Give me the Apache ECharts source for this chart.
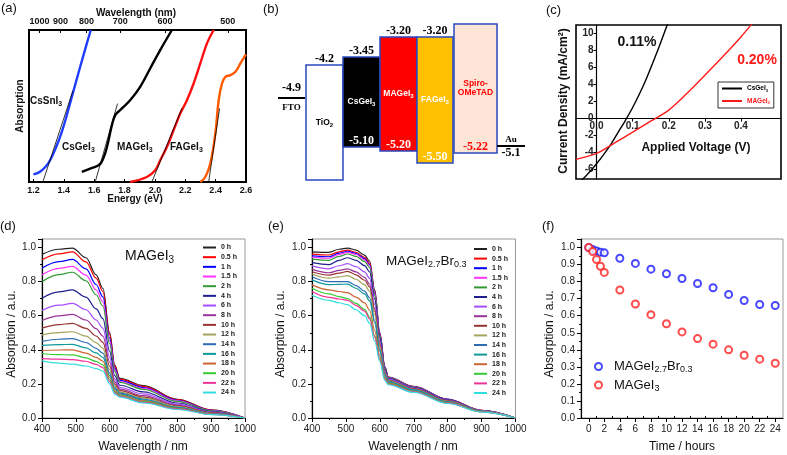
<!DOCTYPE html>
<html>
<head>
<meta charset="utf-8">
<script src="https://cdn.jsdelivr.net/npm/echarts@6/dist/echarts.min.js"></script>
<style>
  html, body { margin: 0; padding: 0; background: #fff; }
  #main { width: 787px; height: 455px; }
</style>
</head>
<body>
<div id="main"></div>
<script>
var SANS = '"Liberation Sans", Arial, sans-serif';
var SERIF = '"Liberation Serif", "Times New Roman", serif';

// ---- (a) absorption edges, [energy eV, absorption]
var csSnI3 = [[1.2, 0.05], [1.24, 0.065], [1.28, 0.1], [1.31, 0.143], [1.35, 0.23], [1.387, 0.33], [1.42, 0.44], [1.453, 0.56], [1.508, 0.758], [1.552, 0.912], [1.578, 1.0]];
var csGeI3 = [[1.519, 0.066], [1.574, 0.088], [1.62, 0.105], [1.645, 0.125], [1.673, 0.19], [1.695, 0.275], [1.717, 0.374], [1.739, 0.44], [1.771, 0.473], [1.837, 0.538], [1.903, 0.626], [1.969, 0.747], [2.035, 0.868], [2.112, 1.0]];
var maGeI3 = [[1.837, 0.0], [1.947, 0.033], [2.002, 0.077], [2.035, 0.143], [2.079, 0.23], [2.123, 0.34], [2.167, 0.45], [2.211, 0.538], [2.255, 0.648], [2.299, 0.78], [2.343, 0.912], [2.387, 1.0]];
var faGeI3 = [[2.299, 0.0], [2.332, 0.033], [2.365, 0.121], [2.398, 0.319], [2.42, 0.538], [2.442, 0.648], [2.464, 0.692], [2.497, 0.703], [2.53, 0.725], [2.563, 0.78], [2.6, 0.84]];
var tangents = [
  [[1.262, 0], [1.46, 0.6]],
  [[1.607, 0], [1.754, 0.516]],
  [[1.98, 0], [2.178, 0.484]],
  [[2.354, 0], [2.426, 0.484]]
];
var energyTicks = [1.2, 1.4, 1.6, 1.8, 2.0, 2.2, 2.4, 2.6];
var wavelengthTicks = [1000, 900, 800, 700, 600, 500];

// ---- (b) band diagram (schematic levels, not to scale)
var layerLabels = ['{n|TiO}{s|2}', '{n|CsGeI}{s|3}', '{n|MAGeI}{s|3}', '{n|FAGeI}{s|3}', '{n|Spiro-}\n{n|OMeTAD}'];
var cbText = ['-4.2', '-3.45', '-3.20', '-3.20', ''];
var vbText = ['', '-5.10', '-5.20', '-5.50', '-5.22'];
var layerFrom = [36, 73, 110, 147, 184];
var layerTo = [73, 110, 147, 183, 227];
var cbLevel = [45, 37, 17, 17, 4];
var vbLevel = [160, 127, 131, 143, 133];
var electrodeNames = ['FTO', 'Au'];
var electrodeText = ['-4.9', '-5.1'];
var electrodeFrom = [8, 227];
var electrodeTo = [35, 255];
var electrodeLevel = [78, 126];

// ---- (c) J-V curves
var csGeV = [-0.045, -0.02, 0, 0.02, 0.04, 0.06, 0.08, 0.1, 0.12, 0.14, 0.16, 0.18, 0.2];
var csGeJ = [-7.4, -6.3, -5.3, -4.2, -3.0, -1.6, -0.2, 1.3, 3.0, 4.9, 7.0, 9.2, 11.5];
var maV = [-0.057, 0, 0.05, 0.1, 0.15, 0.2, 0.25, 0.3, 0.35, 0.4, 0.43];
var maJ = [-4.8, -4.1, -2.85, -1.6, -0.3, 1.0, 2.95, 5.1, 7.3, 9.6, 11.1];
var voltTicks = [0, 0.1, 0.2, 0.3, 0.4];
var currentTicks = [-6, -4, -2, 0, 2, 4, 6, 8, 10];

// ---- (d) MAGeI3 spectra vs time
var timeLabels = ['0 h', '0.5 h', '1 h', '1.5 h', '2 h', '4 h', '6 h', '8 h', '10 h', '12 h', '14 h', '16 h', '18 h', '20 h', '22 h', '24 h'];
var wlD = [400, 450, 490, 530, 560, 580, 600, 615, 630, 700, 800, 900, 1000];
var absD = [
  [0.96, 0.99, 0.997, 0.94, 0.84, 0.76, 0.5, 0.31, 0.232, 0.19, 0.11, 0.048, 0],
  [0.928, 0.963, 0.975, 0.916, 0.82, 0.742, 0.489, 0.304, 0.228, 0.186, 0.108, 0.047, 0],
  [0.879, 0.917, 0.93, 0.875, 0.783, 0.71, 0.469, 0.292, 0.221, 0.179, 0.104, 0.045, 0],
  [0.84, 0.878, 0.89, 0.838, 0.751, 0.682, 0.452, 0.283, 0.214, 0.174, 0.1, 0.043, 0],
  [0.8, 0.841, 0.855, 0.805, 0.723, 0.657, 0.436, 0.274, 0.209, 0.168, 0.097, 0.042, 0],
  [0.703, 0.74, 0.752, 0.709, 0.64, 0.583, 0.391, 0.248, 0.192, 0.153, 0.088, 0.038, 0],
  [0.631, 0.662, 0.672, 0.635, 0.575, 0.527, 0.356, 0.228, 0.179, 0.141, 0.081, 0.035, 0],
  [0.572, 0.599, 0.608, 0.575, 0.524, 0.481, 0.328, 0.212, 0.169, 0.131, 0.076, 0.032, 0],
  [0.527, 0.548, 0.555, 0.526, 0.481, 0.444, 0.304, 0.199, 0.16, 0.123, 0.071, 0.03, 0],
  [0.488, 0.501, 0.506, 0.48, 0.442, 0.409, 0.283, 0.187, 0.152, 0.116, 0.067, 0.028, 0],
  [0.449, 0.462, 0.466, 0.443, 0.409, 0.38, 0.265, 0.177, 0.146, 0.11, 0.063, 0.026, 0],
  [0.426, 0.43, 0.432, 0.411, 0.382, 0.356, 0.25, 0.168, 0.14, 0.105, 0.06, 0.025, 0],
  [0.396, 0.399, 0.4, 0.381, 0.356, 0.333, 0.236, 0.16, 0.135, 0.1, 0.057, 0.023, 0],
  [0.377, 0.372, 0.37, 0.353, 0.332, 0.312, 0.223, 0.153, 0.13, 0.096, 0.055, 0.022, 0],
  [0.348, 0.345, 0.343, 0.333, 0.314, 0.296, 0.213, 0.147, 0.127, 0.092, 0.053, 0.021, 0],
  [0.335, 0.322, 0.316, 0.305, 0.29, 0.275, 0.2, 0.14, 0.122, 0.088, 0.05, 0.02, 0]
];

// ---- (e) MAGeI2.7Br0.3 spectra vs time
var wlE = [400, 450, 480, 505, 530, 555, 570, 585, 600, 615, 625, 700, 800, 900, 1000];
var absE = [
  [0.975, 0.972, 0.99, 0.997, 0.985, 0.955, 0.92, 0.75, 0.5, 0.3, 0.24, 0.185, 0.11, 0.045, 0],
  [0.961, 0.956, 0.975, 0.985, 0.972, 0.942, 0.907, 0.739, 0.494, 0.297, 0.238, 0.184, 0.109, 0.045, 0],
  [0.951, 0.946, 0.967, 0.978, 0.965, 0.935, 0.899, 0.733, 0.49, 0.295, 0.237, 0.183, 0.109, 0.044, 0],
  [0.942, 0.937, 0.96, 0.972, 0.959, 0.928, 0.893, 0.728, 0.487, 0.294, 0.237, 0.182, 0.108, 0.044, 0],
  [0.932, 0.925, 0.948, 0.962, 0.948, 0.918, 0.882, 0.719, 0.482, 0.292, 0.235, 0.181, 0.107, 0.044, 0],
  [0.911, 0.9, 0.925, 0.94, 0.925, 0.894, 0.857, 0.698, 0.471, 0.286, 0.232, 0.179, 0.106, 0.043, 0],
  [0.892, 0.875, 0.893, 0.905, 0.888, 0.857, 0.819, 0.667, 0.453, 0.278, 0.228, 0.175, 0.103, 0.042, 0],
  [0.872, 0.852, 0.866, 0.875, 0.857, 0.825, 0.786, 0.64, 0.438, 0.271, 0.223, 0.172, 0.101, 0.041, 0],
  [0.858, 0.838, 0.85, 0.86, 0.84, 0.808, 0.769, 0.626, 0.43, 0.267, 0.221, 0.171, 0.1, 0.041, 0],
  [0.845, 0.82, 0.828, 0.835, 0.814, 0.782, 0.742, 0.604, 0.417, 0.261, 0.218, 0.168, 0.098, 0.04, 0],
  [0.829, 0.8, 0.8, 0.8, 0.777, 0.744, 0.704, 0.572, 0.399, 0.253, 0.213, 0.164, 0.095, 0.039, 0],
  [0.81, 0.782, 0.784, 0.785, 0.761, 0.728, 0.687, 0.558, 0.391, 0.249, 0.211, 0.163, 0.094, 0.039, 0],
  [0.781, 0.752, 0.742, 0.735, 0.709, 0.675, 0.632, 0.513, 0.366, 0.237, 0.204, 0.157, 0.09, 0.037, 0],
  [0.761, 0.728, 0.712, 0.7, 0.672, 0.637, 0.593, 0.482, 0.348, 0.228, 0.2, 0.154, 0.088, 0.036, 0],
  [0.742, 0.708, 0.698, 0.69, 0.661, 0.627, 0.582, 0.473, 0.343, 0.226, 0.198, 0.153, 0.087, 0.036, 0],
  [0.72, 0.69, 0.676, 0.665, 0.635, 0.6, 0.555, 0.45, 0.33, 0.22, 0.195, 0.15, 0.085, 0.035, 0]
];

// ---- (f) peak absorption vs time
var timeH = [0, 0.5, 1, 1.5, 2, 4, 6, 8, 10, 12, 14, 16, 18, 20, 22, 24];
var absBr = [1.0, 0.988, 0.98, 0.973, 0.969, 0.937, 0.907, 0.873, 0.846, 0.818, 0.789, 0.764, 0.725, 0.689, 0.666, 0.66];
var absI3 = [1.0, 0.976, 0.93, 0.89, 0.854, 0.751, 0.669, 0.606, 0.553, 0.505, 0.466, 0.433, 0.4, 0.368, 0.345, 0.321];
var hourTicks = [0, 2, 4, 6, 8, 10, 12, 14, 16, 18, 20, 22, 24];
var hourMinor = [1, 3, 5, 7, 9, 11, 13, 15, 17, 19, 21, 23];

var timeColors = ['#222222', '#ff0000', '#0000ff', '#ff33ff', '#339933', '#1f1f8f', '#a64dff', '#993399',
  '#993333', '#a3a35c', '#2e6bb5', '#0f9999', '#cc6633', '#33cc33', '#ee3399', '#33dddd'];

// (c) frame, used to put both axes through zero
var jvGrid = { left: 576, top: 25, width: 205, height: 154 };
var jvX = [-0.057, 0.511];
var jvY = [-7.1, 11];
var jvXoffset = -(0 - jvX[0]) / (jvX[1] - jvX[0]) * jvGrid.width;
var jvYoffset = -(0 - jvY[0]) / (jvY[1] - jvY[0]) * jvGrid.height;

function zip(xs, ys) {
  return xs.map(function (x, i) { return [x, ys[i]]; });
}

function sub(size, color, weight) {
  return {
    n: { fontSize: size, fontFamily: SANS, fontWeight: weight, color: color },
    s: { fontSize: Math.round(size * 0.68), fontFamily: SANS, fontWeight: weight, color: color, padding: [Math.round(size * 0.55), 0, 0, 0] }
  };
}

function textEl(x, y, text, size, opts) {
  opts = opts || {};
  return {
    type: 'text', x: x, y: y, rotation: opts.rotation || 0, silent: true,
    style: {
      text: text,
      fontSize: size,
      fontFamily: opts.family || SANS,
      fontWeight: opts.weight || 'normal',
      fill: opts.color || '#111',
      align: opts.align || 'center',
      verticalAlign: 'middle',
      rich: opts.rich
    }
  };
}

function fmtStep(step) {
  return function (v) {
    var k = Math.round(v / step);
    if (Math.abs(v - k * step) > 1e-6 || v > 1.0001) return '';
    return v.toFixed(1);
  };
}

function spectrumX(grid) {
  return {
    gridIndex: grid, type: 'value', min: 400, max: 1000, interval: 100,
    axisLine: { show: true, onZero: false, lineStyle: { color: '#000', width: 1.2 } },
    axisTick: { show: true, length: 4, lineStyle: { color: '#000' } },
    minorTick: { show: true, splitNumber: 2, length: 2, lineStyle: { color: '#000' } },
    splitLine: { show: false },
    axisLabel: { fontSize: 10, color: '#222', fontFamily: SANS, margin: 6, formatter: function (v) { return String(v); } }
  };
}

function absorbY(grid, step) {
  return {
    gridIndex: grid, type: 'value', min: 0, max: 1.05, interval: step,
    axisLine: { show: true, onZero: false, lineStyle: { color: '#000', width: 1.2 } },
    axisTick: { show: true, length: 4, lineStyle: { color: '#000' } },
    minorTick: { show: true, splitNumber: 2, length: 2, lineStyle: { color: '#000' } },
    splitLine: { show: false },
    axisLabel: { fontSize: 10, color: '#222', fontFamily: SANS, margin: 6, formatter: fmtStep(step) }
  };
}

// band diagram boxes
function renderLayer(params, api) {
  var i = params.dataIndex;
  var p0 = api.coord([api.value(0), api.value(2)]);
  var p1 = api.coord([api.value(1), api.value(3)]);
  var fills = ['#ffffff', '#000000', '#ff0000', '#ffc000', '#fce4d6'];
  var nameColor = ['#000000', '#ffffff', '#ffffff', '#ffffff', '#ff0000'];
  var vbColor = ['#ffffff', '#ffffff', '#ffffff', '#ffffff', '#ff0000'];
  var cx = (p0[0] + p1[0]) / 2;
  return {
    type: 'group',
    children: [
      { type: 'rect', shape: { x: p0[0], y: p0[1], width: p1[0] - p0[0], height: p1[1] - p0[1] },
        style: { fill: fills[i], stroke: '#2a48c0', lineWidth: 1.5 } },
      { type: 'text', x: cx, y: p0[1] - 6, z2: 10,
        style: { text: cbText[i], font: 'bold 12px ' + SERIF, fill: '#000', align: 'center', verticalAlign: 'middle' } },
      { type: 'text', x: cx, y: (p0[1] + p1[1]) / 2, z2: 10,
        style: { text: layerLabels[i], fill: nameColor[i], align: 'center', verticalAlign: 'middle', rich: sub(8.5, nameColor[i], 'bold') } },
      { type: 'text', x: cx, y: p1[1] - 6, z2: 10,
        style: { text: vbText[i], font: 'bold 12px ' + SERIF, fill: vbColor[i], align: 'center', verticalAlign: 'middle' } }
    ]
  };
}

function renderElectrode(params, api) {
  var i = params.dataIndex;
  var p0 = api.coord([api.value(0), api.value(2)]);
  var p1 = api.coord([api.value(1), api.value(2)]);
  var cx = (p0[0] + p1[0]) / 2;
  var valueAbove = i === 0;
  return {
    type: 'group',
    children: [
      { type: 'line', shape: { x1: p0[0], y1: p0[1], x2: p1[0], y2: p1[1] }, style: { stroke: '#000', lineWidth: 2 } },
      { type: 'text', x: cx, y: valueAbove ? p0[1] - 10 : p0[1] + 7,
        style: { text: electrodeText[i], font: 'bold 12px ' + SERIF, fill: '#000', align: 'center', verticalAlign: 'middle' } },
      { type: 'text', x: cx, y: valueAbove ? p0[1] + 10 : p0[1] - 6,
        style: { text: electrodeNames[i], font: 'bold 9px ' + SERIF, fill: '#000', align: 'center', verticalAlign: 'middle' } }
    ]
  };
}

var series = [];

// (a)
var aCurves = [
  { name: 'a CsSnI3', data: csSnI3, color: '#1f3dff' },
  { name: 'a CsGeI3', data: csGeI3, color: '#000000' },
  { name: 'a MAGeI3', data: maGeI3, color: '#ff1010' },
  { name: 'a FAGeI3', data: faGeI3, color: '#ff5a00' }
];
aCurves.forEach(function (c) {
  series.push({ type: 'line', name: c.name, xAxisIndex: 0, yAxisIndex: 0, data: c.data, smooth: 0.4,
    symbol: 'none', color: c.color, lineStyle: { width: 2.4 } });
});
tangents.forEach(function (t, i) {
  series.push({ type: 'line', name: 'tangent ' + i, xAxisIndex: 0, yAxisIndex: 0, data: t,
    symbol: 'none', color: '#000', lineStyle: { width: 0.8 }, z: 3 });
});

// (b)
series.push({
  type: 'custom', name: 'layers', xAxisIndex: 2, yAxisIndex: 1, renderItem: renderLayer,
  data: layerFrom.map(function (x, i) { return [x, layerTo[i], cbLevel[i], vbLevel[i]]; })
});
series.push({
  type: 'custom', name: 'electrodes', xAxisIndex: 2, yAxisIndex: 1, renderItem: renderElectrode,
  data: electrodeFrom.map(function (x, i) { return [x, electrodeTo[i], electrodeLevel[i]]; })
});

// (c)
series.push({ type: 'line', name: 'CsGeI3', xAxisIndex: 3, yAxisIndex: 2, data: zip(csGeV, csGeJ),
  smooth: 0.3, symbol: 'none', color: '#000', lineStyle: { width: 1.4 } });
series.push({ type: 'line', name: 'MAGeI3', xAxisIndex: 3, yAxisIndex: 2, data: zip(maV, maJ),
  smooth: 0.3, symbol: 'none', color: '#ff1a1a', lineStyle: { width: 1.4 } });

// (d) and (e)
timeLabels.forEach(function (name, i) {
  series.push({ type: 'line', name: name, xAxisIndex: 4, yAxisIndex: 3, data: zip(wlD, absD[i]),
    smooth: 0.35, smoothMonotone: 'x', symbol: 'none', color: timeColors[i], lineStyle: { width: 1.2 } });
});
timeLabels.forEach(function (name, i) {
  series.push({ type: 'line', name: name, xAxisIndex: 5, yAxisIndex: 4, data: zip(wlE, absE[i]),
    smooth: 0.35, smoothMonotone: 'x', symbol: 'none', color: timeColors[i], lineStyle: { width: 1.2 } });
});

// (f)
series.push({ type: 'scatter', name: 'MAGeI2.7Br0.3', xAxisIndex: 6, yAxisIndex: 5, data: zip(timeH, absBr),
  symbol: 'emptyCircle', symbolSize: 7, color: '#1a1aff', itemStyle: { borderWidth: 1.4 } });
series.push({ type: 'scatter', name: 'MAGeI3 film', xAxisIndex: 6, yAxisIndex: 5, data: zip(timeH, absI3),
  symbol: 'emptyCircle', symbolSize: 7, color: '#ff2020', itemStyle: { borderWidth: 1.4 } });

var option = {
  backgroundColor: '#ffffff',
  animation: false,
  grid: [
    { left: 29, top: 30, width: 217, height: 152, show: true, borderColor: '#000', borderWidth: 2, backgroundColor: 'transparent' },
    { left: 270, top: 20, width: 260, height: 170 },
    { left: jvGrid.left, top: jvGrid.top, width: jvGrid.width, height: jvGrid.height, show: true, borderColor: '#000', borderWidth: 1.6, backgroundColor: 'transparent' },
    { left: 42, top: 239, width: 203, height: 179, show: true, borderColor: '#999', borderWidth: 1, backgroundColor: 'transparent' },
    { left: 312, top: 239, width: 203.5, height: 179, show: true, borderColor: '#999', borderWidth: 1, backgroundColor: 'transparent' },
    { left: 581, top: 239, width: 202, height: 179, show: true, borderColor: '#999', borderWidth: 1, backgroundColor: 'transparent' }
  ],
  xAxis: [
    { gridIndex: 0, type: 'value', min: 1.171, max: 2.6, position: 'bottom',
      axisLine: { show: false }, splitLine: { show: false },
      axisTick: { show: true, inside: true, length: 3, customValues: energyTicks, lineStyle: { color: '#000' } },
      axisLabel: { customValues: energyTicks, fontSize: 9, fontWeight: 'bold', fontFamily: SANS, color: '#111', margin: 4,
        formatter: function (v) { return v.toFixed(1); } } },
    { gridIndex: 0, type: 'value', min: 1.171, max: 2.6, position: 'top',
      axisLine: { show: false }, splitLine: { show: false },
      axisTick: { show: true, inside: true, length: 3, customValues: wavelengthTicks.map(function (w) { return 1240 / w; }), lineStyle: { color: '#000' } },
      axisLabel: { customValues: wavelengthTicks.map(function (w) { return 1240 / w; }), fontSize: 9, fontWeight: 'bold',
        fontFamily: SANS, color: '#111', margin: 4, formatter: function (v) { return String(Math.round(1240 / v / 10) * 10); } } },
    { gridIndex: 1, type: 'value', min: 0, max: 260, show: false },
    { gridIndex: 2, type: 'value', min: jvX[0], max: jvX[1], position: 'bottom', offset: jvYoffset,
      axisLine: { show: true, onZero: false, lineStyle: { color: '#000', width: 1.2 } }, splitLine: { show: false },
      axisTick: { show: true, length: 3, customValues: voltTicks, lineStyle: { color: '#000' } },
      axisLabel: { customValues: voltTicks, fontSize: 10, fontWeight: 'bold', fontFamily: SANS, color: '#222', margin: 3,
        formatter: function (v) { return v.toFixed(1); } } },
    spectrumX(3),
    spectrumX(4),
    { gridIndex: 5, type: 'value', min: -1, max: 25,
      axisLine: { show: true, onZero: false, lineStyle: { color: '#000', width: 1.2 } }, splitLine: { show: false },
      axisTick: { show: true, length: 4, customValues: hourTicks, lineStyle: { color: '#000' } },
      axisLabel: { customValues: hourTicks, fontSize: 10, fontFamily: SANS, color: '#222', margin: 6 } },
    { gridIndex: 5, type: 'value', min: -1, max: 25,
      axisLine: { show: false }, splitLine: { show: false }, axisLabel: { show: false },
      axisTick: { show: true, length: 2, customValues: hourMinor, lineStyle: { color: '#000' } } }
  ],
  yAxis: [
    { gridIndex: 0, type: 'value', min: 0, max: 1, show: false },
    { gridIndex: 1, type: 'value', min: 0, max: 170, inverse: true, show: false },
    { gridIndex: 2, type: 'value', min: jvY[0], max: jvY[1], position: 'left', offset: jvXoffset,
      axisLine: { show: true, onZero: false, lineStyle: { color: '#000', width: 1.2 } }, splitLine: { show: false },
      axisTick: { show: true, length: 3, customValues: currentTicks, lineStyle: { color: '#000' } },
      axisLabel: { customValues: currentTicks, fontSize: 10, fontWeight: 'bold', fontFamily: SANS, color: '#222', margin: 3 } },
    absorbY(3, 0.2),
    absorbY(4, 0.2),
    absorbY(5, 0.1)
  ],
  legend: [
    { data: timeLabels, orient: 'vertical', left: 202, top: 244, itemWidth: 13, itemHeight: 7, itemGap: 2.67,
      padding: 0, selectedMode: false, itemStyle: { opacity: 0 },
      textStyle: { fontSize: 7, fontWeight: 'bold', fontFamily: SANS, color: '#222' } },
    { data: timeLabels, orient: 'vertical', left: 473, top: 245.5, itemWidth: 13, itemHeight: 7, itemGap: 2.6,
      padding: 0, selectedMode: false, itemStyle: { opacity: 0 },
      textStyle: { fontSize: 7, fontWeight: 'bold', fontFamily: SANS, color: '#222' } },
    { data: [{ name: 'CsGeI3', textStyle: { rich: sub(6.5, '#000', 'bold') } },
             { name: 'MAGeI3', textStyle: { rich: sub(6.5, '#ff1a1a', 'bold') } }],
      orient: 'vertical', left: 718, top: 82, itemWidth: 20, itemHeight: 7, itemGap: 5, padding: [3, 4, 3, 3],
      borderColor: '#000', borderWidth: 0.8, backgroundColor: '#fff', selectedMode: false, itemStyle: { opacity: 0 },
      formatter: function (name) { return '{n|' + name.slice(0, -1) + '}{s|3}'; },
      textStyle: { fontSize: 6.5, fontWeight: 'bold', fontFamily: SANS } },
    { data: ['MAGeI2.7Br0.3', 'MAGeI3 film'], orient: 'vertical', left: 594, top: 360, itemWidth: 7, itemHeight: 7, itemGap: 4,
      padding: 0, selectedMode: false,
      formatter: function (name) {
        return name.indexOf('Br') >= 0 ? '{n|MAGeI}{s|2.7}{n|Br}{s|0.3}' : '{n|MAGeI}{s|3}';
      },
      textStyle: { fontSize: 13, fontFamily: SANS, color: '#111', padding: [0, 0, 0, 7], rich: sub(13, '#111', 'normal') } }
  ],
  graphic: [
    // panel letters
    textEl(1, 8, '(a)', 13, { align: 'left' }),
    textEl(263, 9, '(b)', 13, { align: 'left' }),
    textEl(546, 10, '(c)', 13, { align: 'left' }),
    textEl(0, 226, '(d)', 13, { align: 'left' }),
    textEl(268, 226, '(e)', 13, { align: 'left' }),
    textEl(542, 226, '(f)', 13, { align: 'left' }),
    // (a)
    textEl(136, 13.5, 'Wavelength (nm)', 10, { weight: 'bold' }),
    textEl(135, 199.5, 'Energy (eV)', 10, { weight: 'bold' }),
    textEl(20, 106, 'Absorption', 10, { weight: 'bold', rotation: Math.PI / 2 }),
    textEl(30, 101, '{n|CsSnI}{s|3}', 10, { align: 'left', rich: sub(10, '#1f3dff', 'bold') }),
    textEl(62, 147, '{n|CsGeI}{s|3}', 10, { align: 'left', rich: sub(10, '#000', 'bold') }),
    textEl(117, 147, '{n|MAGeI}{s|3}', 10, { align: 'left', rich: sub(10, '#ff1010', 'bold') }),
    textEl(170, 147, '{n|FAGeI}{s|3}', 10, { align: 'left', rich: sub(10, '#ff5a00', 'bold') }),
    // (c)
    textEl(637, 42.5, '0.11%', 14, { weight: 'bold' }),
    textEl(757, 60, '0.20%', 14, { weight: 'bold', color: '#ff1a1a' }),
    textEl(696, 148, 'Applied Voltage (V)', 12, { weight: 'bold' }),
    textEl(564, 101, 'Current Density (mA/cm²)', 12, { weight: 'bold', rotation: Math.PI / 2 }),
    // (d)
    textEl(125, 256.5, '{n|MAGeI}{s|3}', 14, { align: 'left', rich: sub(14, '#111', 'normal') }),
    textEl(12, 334, 'Absorption / a.u.', 12, { rotation: Math.PI / 2 }),
    textEl(143, 447, 'Wavelength / nm', 12),
    // (e)
    textEl(386, 261, '{n|MAGeI}{s|2.7}{n|Br}{s|0.3}', 13.5, { align: 'left', rich: sub(13.5, '#111', 'normal') }),
    textEl(281, 334, 'Absorption / a.u.', 12, { rotation: Math.PI / 2 }),
    textEl(413, 447, 'Wavelength / nm', 12),
    // (f)
    textEl(550, 334, 'Absorption / a.u.', 12, { rotation: Math.PI / 2 }),
    textEl(682, 447, 'Time / hours', 12)
  ],
  series: series
};

var chart = echarts.init(document.getElementById('main'));
chart.setOption(option);
</script>
</body>
</html>
